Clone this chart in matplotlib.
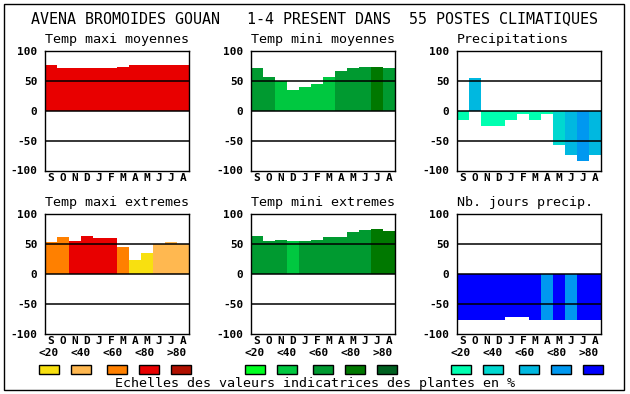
import matplotlib
matplotlib.use('Agg')
import matplotlib.pyplot as plt
from matplotlib.patches import Rectangle

W, H = 630, 394

months = ['S', 'O', 'N', 'D', 'J', 'F', 'M', 'A', 'M', 'J', 'J', 'A']
class_labels = ['<20', '<40', '<60', '<80', '>80']

# colour scales (index = class)
reds = ['#f8e010', '#ffb850', '#ff8000', '#e80000', '#b01000']
greens = ['#00ff20', '#00c840', '#009a30', '#007800', '#006020']
blues = ['#00ffb0', '#00d8d0', '#00b8e0', '#0098f0', '#0000ff']

tmax_moy = [77, 72, 72, 71, 72, 71, 74, 77, 76, 77, 77, 76]
tmax_moy_cls = [3, 3, 3, 3, 3, 3, 3, 3, 3, 3, 3, 3]
tmin_moy = [72, 56, 50, 35, 40, 45, 57, 66, 72, 74, 74, 71]
tmin_moy_cls = [2, 2, 1, 1, 1, 1, 1, 2, 2, 2, 3, 2]
precip = [-15, 54, -25, -25, -16, -6, -16, -6, -57, -74, -84, -74]
precip_cls = [0, 2, 0, 0, 0, 0, 0, 0, 1, 2, 3, 2]
tmax_ext = [53, 62, 55, 63, 60, 60, 45, 23, 35, 50, 53, 50]
tmax_ext_cls = [2, 2, 3, 3, 3, 3, 2, 0, 0, 1, 1, 1]
tmin_ext = [63, 55, 57, 55, 55, 57, 62, 62, 70, 73, 75, 72]
tmin_ext_cls = [2, 2, 2, 1, 2, 2, 2, 2, 2, 2, 3, 3]
njours = [-78, -77, -77, -77, -72, -73, -77, -77, -77, -78, -78, -78]
njours_cls = [4, 4, 4, 4, 4, 4, 4, 3, 4, 3, 4, 4]

panels = [
    ('Temp maxi moyennes', tmax_moy, tmax_moy_cls, reds),
    ('Temp mini moyennes', tmin_moy, tmin_moy_cls, greens),
    ('Precipitations', precip, precip_cls, blues),
    ('Temp maxi extremes', tmax_ext, tmax_ext_cls, reds),
    ('Temp mini extremes', tmin_ext, tmin_ext_cls, greens),
    ('Nb. jours precip.', njours, njours_cls, blues),
]

MONO = 'DejaVu Sans Mono'
col_left = [45, 251, 457]
row_top = [51, 214]
ax_w, ax_h = 144, 119.5


def px_axes(left, top, w, h):
    return [left / W, 1 - (top + h) / H, w / W, h / H]


fig = plt.figure(figsize=(W / 100, H / 100), dpi=100)

# outer frame
fig.patches.append(Rectangle((4 / W, 4 / H), 620 / W, 386 / H, transform=fig.transFigure,
                             fill=False, edgecolor='black', linewidth=1))

fig.text(31 / W, 1 - 22.7 / H,
         'AVENA BROMOIDES GOUAN   1-4 PRESENT DANS  55 POSTES CLIMATIQUES',
         family=MONO, fontsize=10.8, ha='left', va='baseline')

for i, (title, vals, cls, pal) in enumerate(panels):
    r, c = divmod(i, 3)
    ax = fig.add_axes(px_axes(col_left[c], row_top[r], ax_w, ax_h))
    x = range(len(vals))
    ax.bar(x, vals, width=1.0, color=[pal[k] for k in cls], linewidth=0, zorder=1)
    for yl in (50, 0, -50):
        ax.axhline(yl, color='black', linewidth=1.1, zorder=3)
    ax.set_xlim(-0.5, len(vals) - 0.5)
    ax.set_ylim(-100, 100)
    ax.set_yticks([100, 50, 0, -50, -100])
    ax.set_yticklabels(['100', '50', '0', '-50', '-100'], family=MONO,
                       fontsize=8, fontweight='bold')
    ax.set_xticks(list(x))
    ax.set_xticklabels(months, family=MONO, fontsize=8, fontweight='bold')
    ax.tick_params(length=0, pad=1.5, axis='x')
    ax.tick_params(length=0, pad=5.5, axis='y')
    for s in ax.spines.values():
        s.set_linewidth(1)
    ax.set_title(title, loc='left', family=MONO, fontsize=9.6, pad=5.5)

# legends of the colour scales
box_off = [-6, 26, 62, 94, 126]
for c, pal in enumerate([reds, greens, blues]):
    left = col_left[c]
    for k, lab in enumerate(class_labels):
        fig.text((left + 4 + 32 * k) / W, 1 - 353 / H, lab, family=MONO,
                 fontsize=8, fontweight='bold', ha='center', va='center')
        fig.patches.append(Rectangle(((left + box_off[k]) / W, 1 - 373.5 / H), 20 / W, 9 / H,
                                     transform=fig.transFigure, facecolor=pal[k],
                                     edgecolor='black', linewidth=1))

fig.text(115 / W, 1 - 386.5 / H, 'Echelles des valeurs indicatrices des plantes en %',
         family=MONO, fontsize=9.6, ha='left', va='baseline')

fig.savefig('out.png', dpi=100)
